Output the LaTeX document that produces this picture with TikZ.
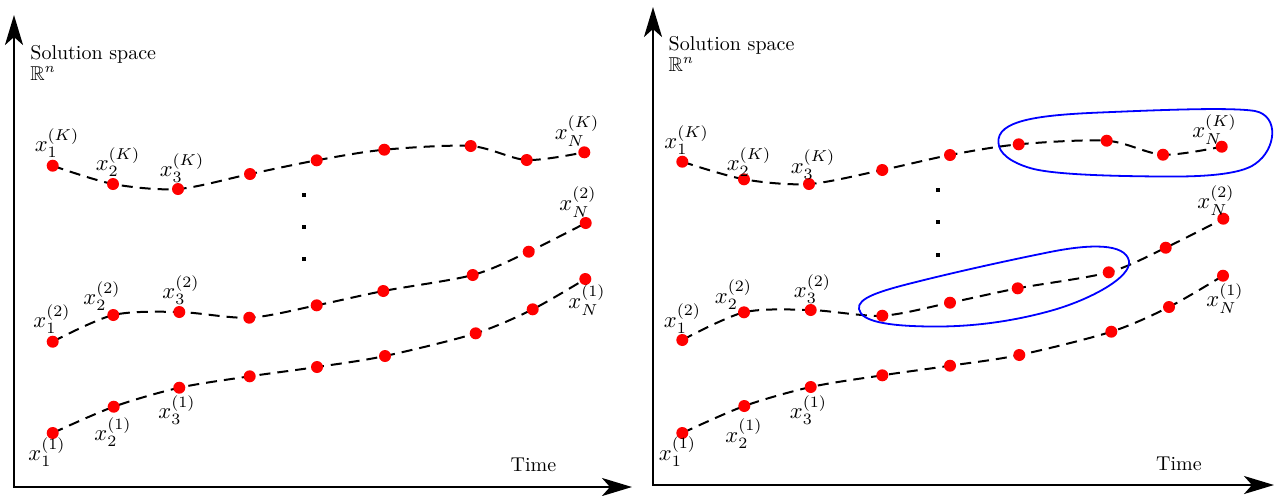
\documentclass[tikz,border=0pt]{standalone}
\usepackage{amssymb}
\usetikzlibrary{arrows.meta}
\pgfdeclarelayer{bg}
\pgfsetlayers{bg,main}
\begin{document}
\begin{tikzpicture}[x=0.5pt,y=-0.5pt,
  dot/.style={circle,fill=red,inner sep=0pt,minimum size=6pt},
  traj/.style={line width=1pt,dash pattern=on 5.5pt off 3.5pt},
  axis/.style={line width=1.3pt,{Stealth[length=15pt,width=9pt,inset=4pt]}-{Stealth[length=15pt,width=9pt,inset=4pt]}},
  lab/.style={inner sep=0pt,scale=1.13},
  txt/.style={inner sep=0pt,anchor=base west},
  vdot/.style={fill=black,inner sep=0pt,minimum size=2.2pt},
  loopc/.style={draw=blue,line width=0.9pt}]
\useasboundingbox (0,0) rectangle (1275,495);

% ---------------- left panel ----------------
\draw[axis] (14,15) -- (14,487) -- (632,487);
\node[txt] (ssL) at (30,59) {Solution space};
\node[txt] (rnL) at (30,80) {$\mathbb{R}^n$};
\node[inner sep=0pt,anchor=base] (timeL) at (533.5,471.5) {Time};

\foreach \n/\x/\y in {1/52.7/165.7,2/113/184,3/178/189,4/250/174,5/316.7/160.3,6/384.3/149.7,7/470.7/146,8/526.7/160,9/584.3/152.3}
  \node[dot] (LK\n) at (\x,\y) {};
\foreach \n/\x/\y in {1/52.7/341.7,2/113.3/315,3/179.3/312,4/249.3/317.7,5/316.7/305.3,6/383.3/291,7/472.7/275,8/528.7/251.7,9/585.7/223}
  \node[dot] (LB\n) at (\x,\y) {};
\foreach \n/\x/\y in {1/52.7/433,2/113.7/406.7,3/179.3/387.7,4/249.7/376.3,5/317/367,6/385/356,7/475.7/333.3,8/532.7/309.3,9/585.3/279}
  \node[dot] (LA\n) at (\x,\y) {};

\begin{pgfonlayer}{bg}
\draw[traj] plot[smooth] coordinates {(LK1) (LK2) (LK3) (LK4) (LK5) (LK6) (LK7) (LK8) (LK9)};
\draw[traj] plot[smooth] coordinates {(LB1) (LB2) (LB3) (LB4) (LB5) (LB6) (LB7) (LB8) (LB9)};
\draw[traj] plot[smooth] coordinates {(LA1) (LA2) (LA3) (LA4) (LA5) (LA6) (LA7) (LA8) (LA9)};
\end{pgfonlayer}

\node[vdot] (vL1) at (304,195) {};
\node[vdot] (vL2) at (304,227) {};
\node[vdot] (vL3) at (304,259) {};

\node[lab] (tLK1) at (57,143) {$x_1^{(K)}$};
\node[lab] (tLK2) at (118,162) {$x_2^{(K)}$};
\node[lab] (tLK3) at (182,168) {$x_3^{(K)}$};
\node[lab] (tLK9) at (577,131) {$x_N^{(K)}$};
\node[lab] (tLB1) at (52,319) {$x_1^{(2)}$};
\node[lab] (tLB2) at (102,296) {$x_2^{(2)}$};
\node[lab] (tLB3) at (181,290) {$x_3^{(2)}$};
\node[lab] (tLB9) at (578,202) {$x_N^{(2)}$};
\node[lab] (tLA1) at (47,452) {$x_1^{(1)}$};
\node[lab] (tLA2) at (113,432) {$x_2^{(1)}$};
\node[lab] (tLA3) at (177,410) {$x_3^{(1)}$};
\node[lab] (tLA9) at (587,300) {$x_N^{(1)}$};

% ---------------- right panel ----------------
\draw[axis] (653,7) -- (653,485) -- (1274,485);
\node[txt] (ssR) at (668.3,50) {Solution space};
\node[txt] (rnR) at (668.3,71) {$\mathbb{R}^n$};
\node[inner sep=0pt,anchor=base] (timeR) at (1179,470) {Time};

\foreach \n/\x/\y in {1/682.3/161.7,2/744/179.3,3/809/184,4/882.3/170,5/950/155,6/1018.7/144.3,7/1106.7/140.7,8/1163/154.7,9/1221.7/146.7}
  \node[dot] (RK\n) at (\x,\y) {};
\foreach \n/\x/\y in {1/682.3/340,2/744/312.3,3/810.7/310,4/882.3/315.7,5/950/302.7,6/1017.7/288.3,7/1108.7/272.3,8/1165.7/247.7,9/1223.3/218.7}
  \node[dot] (RB\n) at (\x,\y) {};
\foreach \n/\x/\y in {1/682.3/433,2/744.3/406,3/810.7/387,4/882.3/375.3,5/950/365.7,6/1019.3/355,7/1111.3/331.7,8/1169/307,9/1223/275.7}
  \node[dot] (RA\n) at (\x,\y) {};

\begin{pgfonlayer}{bg}
\draw[traj] plot[smooth] coordinates {(RK1) (RK2) (RK3) (RK4) (RK5) (RK6) (RK7) (RK8) (RK9)};
\draw[traj] plot[smooth] coordinates {(RB1) (RB2) (RB3) (RB4) (RB5) (RB6) (RB7) (RB8) (RB9)};
\draw[traj] plot[smooth] coordinates {(RA1) (RA2) (RA3) (RA4) (RA5) (RA6) (RA7) (RA8) (RA9)};
\end{pgfonlayer}

\node[vdot] (vR1) at (938,190) {};
\node[vdot] (vR2) at (938,222) {};
\node[vdot] (vR3) at (938,255) {};

\node[lab] (tRK1) at (686.7,140) {$x_1^{(K)}$};
\node[lab] (tRK2) at (749,162) {$x_2^{(K)}$};
\node[lab] (tRK3) at (813,164.5) {$x_3^{(K)}$};
\node[lab] (tRK9) at (1214.5,129.5) {$x_N^{(K)}$};
\node[lab] (tRB1) at (682.5,318.5) {$x_1^{(2)}$};
\node[lab] (tRB2) at (733.5,294.5) {$x_2^{(2)}$};
\node[lab] (tRB3) at (812.5,289) {$x_3^{(2)}$};
\node[lab] (tRB9) at (1216,200.5) {$x_N^{(2)}$};
\node[lab] (tRA1) at (677.5,451.5) {$x_1^{(1)}$};
\node[lab] (tRA2) at (744,433.5) {$x_2^{(1)}$};
\node[lab] (tRA3) at (808.5,410) {$x_3^{(1)}$};
\node[lab] (tRA9) at (1225,298.5) {$x_N^{(1)}$};

% blue enclosures
\draw[loopc] (998.5,143) .. controls (996,120) and (1040,115) .. (1100,112.5)
  .. controls (1160,110) and (1230,107) .. (1255,111)
  .. controls (1280,116) and (1276,150) .. (1255,164)
  .. controls (1240,175) and (1200,177) .. (1160,176.5)
  .. controls (1100,176) and (1050,174) .. (1030,168)
  .. controls (1010,162) and (999,153) .. (998.5,143) -- cycle;
\draw[loopc] (859,309) .. controls (857,298) and (880,291) .. (916,282)
  .. controls (960,271) and (1010,260) .. (1050,252)
  .. controls (1090,244) and (1125,243) .. (1129,261)
  .. controls (1132,277) and (1090,300) .. (1050,311)
  .. controls (1010,322) and (970,327) .. (930,326.5)
  .. controls (890,326) and (861,322) .. (859,309) -- cycle;
\end{tikzpicture}
\end{document}
